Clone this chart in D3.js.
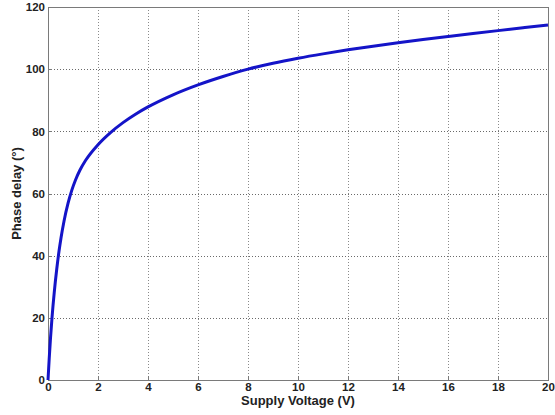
<!DOCTYPE html>
<html>
<head>
<meta charset="utf-8">
<script src="https://cdn.jsdelivr.net/npm/d3@7"></script>
<style>
html,body{margin:0;padding:0;background:#fff;}
svg{display:block;}
text{font-family:"Liberation Sans",Arial,sans-serif;font-weight:bold;fill:#222;}
</style>
</head>
<body>
<svg id="c" width="555" height="415"></svg>
<script>
const voltage = [0, 0.05, 0.1, 0.16, 0.25, 0.35, 0.44, 0.52, 0.64, 0.8, 0.95, 1.1, 1.28, 1.5, 2.0, 2.5, 3.0, 3.5, 4.0, 5.0, 6.0, 7.0, 8.0, 9.0, 10.0, 11.0, 12.0, 13.0, 14.0, 15.0, 16.0, 17.0, 18.0, 19.0, 20.0];
const phase   = [0, 7.1, 13.5, 20, 28.2, 35.7, 41.4, 45.7, 51.1, 56.8, 61, 64.35, 67.55, 70.6, 75.7, 79.6, 82.8, 85.5, 87.85, 91.75, 94.95, 97.65, 100, 101.9, 103.5, 104.92, 106.22, 107.4, 108.5, 109.53, 110.51, 111.47, 112.4, 113.31, 114.21];
const xTicks = [0, 2, 4, 6, 8, 10, 12, 14, 16, 18, 20];
const yTicks = [0, 20, 40, 60, 80, 100, 120];
const xLabel = "Supply Voltage (V)";
const yLabel = "Phase delay (\u00b0)";

const svg = d3.select("#c");
const L = 48, R = 548, T = 7, B = 380;
const x = d3.scaleLinear().domain([0, 20]).range([L, R]);
const y = d3.scaleLinear().domain([0, 120]).range([B, T]);

// grid
const g = svg.append("g");
g.selectAll(".gx").data(xTicks.slice(1, -1)).enter().append("line")
  .attr("x1", d => x(d) + 0.5).attr("x2", d => x(d) + 0.5)
  .attr("y1", T).attr("y2", B)
  .attr("stroke", "#8a8a8a").attr("stroke-width", 1).attr("stroke-dasharray", "1,2");
g.selectAll(".gy").data(yTicks.slice(1, -1)).enter().append("line")
  .attr("y1", d => Math.round(y(d)) + 0.5).attr("y2", d => Math.round(y(d)) + 0.5)
  .attr("x1", L).attr("x2", R)
  .attr("stroke", "#6a6a6a").attr("stroke-width", 1).attr("stroke-dasharray", "1,2");

// box
svg.append("rect").attr("x", L + 0.5).attr("y", T + 0.5).attr("width", R - L).attr("height", B - T)
  .attr("fill", "none").attr("stroke", "#7a7a7a").attr("stroke-width", 1);

// axes labels
const xa = svg.append("g").attr("transform", `translate(0,${B})`)
  .call(d3.axisBottom(x).tickValues(xTicks).tickSize(0).tickPadding(3).tickFormat(d3.format("d")));
xa.select(".domain").remove();
xa.selectAll("text").attr("font-size", 11.5).attr("fill", "#222").attr("font-family", "Liberation Sans, Arial, sans-serif").attr("font-weight", "bold");

const ya = svg.append("g").attr("transform", `translate(${L},0)`)
  .call(d3.axisLeft(y).tickValues(yTicks).tickSize(0).tickPadding(3).tickFormat(d3.format("d")));
ya.select(".domain").remove();
ya.selectAll("text").attr("font-size", 11.5).attr("fill", "#222").attr("font-family", "Liberation Sans, Arial, sans-serif").attr("font-weight", "bold");

// inner ticks
svg.selectAll(".tx").data(xTicks).enter().append("line")
  .attr("x1", d => x(d) + 0.5).attr("x2", d => x(d) + 0.5).attr("y1", B).attr("y2", B - 4)
  .attr("stroke", "#7a7a7a");
svg.selectAll(".ty").data(yTicks).enter().append("line")
  .attr("y1", d => Math.round(y(d)) + 0.5).attr("y2", d => Math.round(y(d)) + 0.5).attr("x1", L).attr("x2", L + 4)
  .attr("stroke", "#7a7a7a");

// curve
const pts = voltage.map((v, i) => [v, phase[i]]);
svg.append("path").datum(pts)
  .attr("fill", "none").attr("stroke", "#1414c8").attr("stroke-width", 3)
  .attr("stroke-linejoin", "round")
  .attr("d", d3.line().x(d => x(d[0])).y(d => y(d[1])).curve(d3.curveMonotoneX));

// titles
svg.append("text").attr("x", (L + R) / 2).attr("y", 405).attr("text-anchor", "middle")
  .attr("font-size", 13).text(xLabel);
svg.append("text").attr("transform", `translate(21,${(T + B) / 2}) rotate(-90)`)
  .attr("text-anchor", "middle").attr("font-size", 13).text(yLabel);
</script>
</body>
</html>
